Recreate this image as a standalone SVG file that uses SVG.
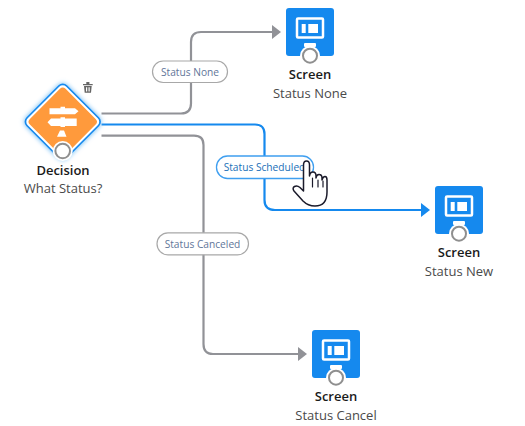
<svg xmlns="http://www.w3.org/2000/svg" width="525" height="426" viewBox="0 0 525 426">
<defs>
<style>
text{font-family:"Open Sans","Noto Sans","Liberation Sans",sans-serif;text-anchor:middle}
.t{font-size:13px;font-weight:600;fill:#1a1a1a}
.s{font-size:13px;fill:#4a4a4a}
.l{font-size:10.200px;fill:#5f7699}
.c{fill:none;stroke:#919297;stroke-width:2.200}
.b{fill:none;stroke:#1589ee;stroke-width:2.200}
.p{fill:#fff;stroke:#a8a8a8;stroke-width:1.200}
.box{fill:#1589ee}
.ring{fill:#fff;stroke:#8f8f8f;stroke-width:2}
.w{fill:#fff}
</style>
<filter id="glow" x="-30%" y="-30%" width="160%" height="160%"><feGaussianBlur stdDeviation="2.500"/></filter>
<marker id="ag" markerWidth="10" markerHeight="14" refX="0" refY="7" orient="auto" markerUnits="userSpaceOnUse"><path d="M0 0L9 7L0 14Z" fill="#919297"/></marker>
<marker id="ab" markerWidth="10" markerHeight="14" refX="0" refY="7" orient="auto" markerUnits="userSpaceOnUse"><path d="M0 0L9 7L0 14Z" fill="#1589ee"/></marker>
<g id="scr"><rect class="box" width="48" height="48" rx="3"/><rect x="11" y="10.500" width="26" height="19" rx="1" fill="none" stroke="#fff" stroke-width="2.500"/><rect x="15.700" y="16" width="4" height="9" class="w"/><rect x="22.300" y="16" width="9.700" height="9" class="w"/><rect x="18" y="35" width="12" height="4" rx="1" class="w"/><circle cx="24" cy="47.700" r="10" fill="#fff"/><circle cx="24" cy="47.700" r="7" class="ring"/></g>
</defs>
<g id="connectors">
<path class="c" marker-end="url(#ag)" d="M101.500 113.500H181Q191 113.500 191 103.500V42Q191 32 201 32H272"/>
<path class="c" marker-end="url(#ag)" d="M101.500 135.700H194Q203.500 135.700 203.500 145V344Q203.500 354 213 354H298"/>
<path class="b" marker-end="url(#ab)" d="M101.500 124.500H255Q264.500 124.500 264.500 134V200Q264.500 210 275 210H421"/>
</g>
<g id="label-none"><rect class="p" x="152.500" y="61" width="75" height="21.500" rx="10.700"/><text class="l" x="190" y="75.500">Status None</text></g>
<g id="label-scheduled"><rect x="216.500" y="156" width="97" height="22.500" rx="11" fill="#fff" stroke="#3f9ff0" stroke-width="1.300"/><text class="l" x="264.500" y="170.800" style="fill:#1a6fb8">Status Scheduled</text></g>
<g id="label-canceled"><rect class="p" x="157" y="232.800" width="91.500" height="22" rx="11"/><text class="l" x="202.500" y="247.500">Status Canceled</text></g>
<g id="decision">
<rect x="34" y="93" width="57.500" height="57.500" rx="6" transform="rotate(45 62.750 121.750)" fill="#5fb4f5" filter="url(#glow)"/>
<rect x="34" y="93" width="57.500" height="57.500" rx="6" transform="rotate(45 62.750 121.750)" fill="#1589ee"/>
<rect x="35.500" y="94.500" width="54.500" height="54.500" rx="5" transform="rotate(45 62.750 121.750)" fill="#fff"/>
<rect x="37.500" y="96.500" width="50.500" height="50.500" rx="4" transform="rotate(45 62.750 121.750)" fill="#ff9a3c"/>
<path class="w" d="M49.500 108.200H60.500V106.800H65V108.200H75L78.500 111.200L75 114.200H49.500ZM51 118.400H60.500V117.200H65V118.400H76.700V126H65V127H60.500V126H51L47.500 122.200ZM60 130.500H64L66.500 136.700H57Z"/>
<circle cx="62.700" cy="151" r="10" fill="#fff"/><circle cx="62.700" cy="151" r="7.300" class="ring"/>
<path d="M83 84H92.700V85.300H83ZM86.300 84V82H89.400V84ZM84 86H91.700L91 92.800H84.700ZM86 87.200V91.500H87.200V87.200ZM88.500 87.200V91.500H89.700V87.200Z" fill="#666" fill-rule="evenodd"/>
<text class="t" x="63" y="175">Decision</text><text class="s" x="63" y="193">What Status?</text>
</g>
<g id="screen-none"><use href="#scr" x="286" y="8"/><text class="t" x="310" y="79">Screen</text><text class="s" x="310" y="98">Status None</text></g>
<g id="screen-new"><use href="#scr" x="435" y="186"/><text class="t" x="459" y="257">Screen</text><text class="s" x="459" y="276">Status New</text></g>
<g id="screen-cancel"><use href="#scr" x="312" y="330"/><text class="t" x="336" y="401">Screen</text><text class="s" x="336" y="420">Status Cancel</text></g>
<g id="cursor" stroke="#1b1b2b" stroke-width="1.500" stroke-linejoin="round" stroke-linecap="round"><path d="M303.500 186V165Q303.500 161 306.500 161Q309.500 161 309.500 165V176Q310 172 313 172Q316 172 316 176V178Q316.500 174.500 319 174.500Q322 174.500 322 178V180Q323 176.500 325 176.500Q327 176.500 327 180V192Q327 206 315 206Q308 206 303 201L294 191Q292 188 294.500 186.500Q297 185 300 187.500L303.500 191Z" fill="#fff"/><path d="M312.500 178V187M318 180V187M323 181V187" fill="none" stroke-width="1.200"/></g>
</svg>
